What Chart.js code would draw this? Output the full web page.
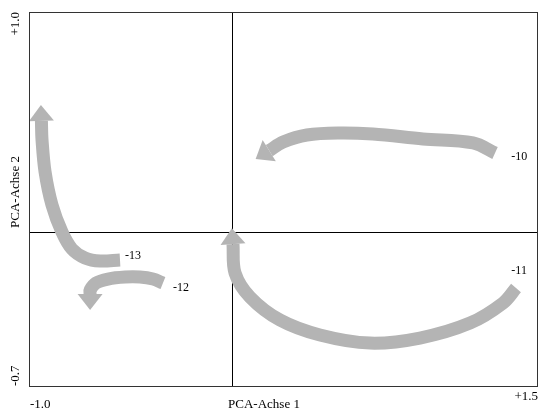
<!DOCTYPE html>
<html>
<head>
<meta charset="utf-8">
<script src="https://cdn.jsdelivr.net/npm/chart.js@4"></script>
<style>
  html, body { margin: 0; padding: 0; background: #fff; }
  #wrap { width: 540px; height: 412px; }
</style>
</head>
<body>
<div id="wrap"><canvas id="pcaChart"></canvas></div>
<script>
// trajectories in PCA space (axis 1 = x, axis 2 = y)
const seriesNames = ['-10', '-11', '-12', '-13'];
const x10 = [1.289, 1.181, 0.935, 0.689, 0.527, 0.365, 0.248, 0.180];
const y10 = [0.359, 0.405, 0.423, 0.445, 0.450, 0.441, 0.409, 0.370];
const x11 = [1.392, 1.328, 1.166, 0.920, 0.675, 0.429, 0.233, 0.085, 0.012, 0.002];
const y11 = [-0.255, -0.323, -0.414, -0.482, -0.505, -0.468, -0.400, -0.295, -0.186, -0.055];
const x12 = [-0.342, -0.391, -0.455, -0.528, -0.612, -0.671, -0.700, -0.700];
const y12 = [-0.232, -0.214, -0.205, -0.205, -0.214, -0.232, -0.264, -0.282];
const x13 = [-0.553, -0.651, -0.725, -0.789, -0.838, -0.887, -0.921, -0.936, -0.939];
const y13 = [-0.127, -0.132, -0.118, -0.077, 0.000, 0.123, 0.273, 0.418, 0.505];
const labelX = [1.369, 1.369, -0.293, -0.528];
const labelY = [0.341, -0.177, -0.255, -0.109];
const xTickLabels = ['-1.0', '+1.5'];
const yTickLabels = ['+1.0', '-0.7'];
const xTitle = 'PCA-Achse 1';
const yTitle = 'PCA-Achse 2';

const xs = [x10, x11, x12, x13];
const ys = [y10, y11, y12, y13];
const grey = '#b4b4b4';
const serif = '"Liberation Serif", "Times New Roman", serif';

const datasets = seriesNames.map((name, i) => ({
  label: name,
  data: xs[i].map((x, j) => ({ x: x, y: ys[i][j] })),
  showLine: true,
  borderColor: grey,
  borderWidth: 13,
  borderCapStyle: 'butt',
  borderJoinStyle: 'round',
  tension: 0.35,
  pointRadius: 0,
  fill: false
}));

// arrow heads at the end of each trajectory + frame, texts
const pcaPlugin = {
  id: 'pcaDecor',
  afterDatasetsDraw(chart) {
    const ctx = chart.ctx;
    chart.data.datasets.forEach((ds, i) => {
      const pts = chart.getDatasetMeta(i).data;
      const p = pts[pts.length - 1];
      let q = { x: p.cp1x, y: p.cp1y };
      if (q.x === undefined || Math.hypot(p.x - q.x, p.y - q.y) < 0.5) q = pts[pts.length - 2];
      const a = Math.atan2(p.y - q.y, p.x - q.x);
      const len = 16, half = 12.5;
      ctx.save();
      ctx.fillStyle = grey;
      ctx.beginPath();
      ctx.moveTo(p.x + Math.cos(a) * len, p.y + Math.sin(a) * len);
      ctx.lineTo(p.x - Math.sin(a) * half, p.y + Math.cos(a) * half);
      ctx.lineTo(p.x + Math.sin(a) * half, p.y - Math.cos(a) * half);
      ctx.closePath();
      ctx.fill();
      ctx.restore();
    });
  },
  afterDraw(chart) {
    const ctx = chart.ctx;
    const area = chart.chartArea;
    const sx = chart.scales.x, sy = chart.scales.y;
    ctx.save();
    ctx.strokeStyle = '#333';
    ctx.lineWidth = 1;
    ctx.strokeRect(area.left + 0.5, area.top + 0.5, area.right - area.left - 1, area.bottom - area.top);

    ctx.fillStyle = '#000';
    ctx.font = '12px ' + serif;
    ctx.textBaseline = 'middle';
    ctx.textAlign = 'left';
    seriesNames.forEach((name, i) => {
      ctx.fillText(name, sx.getPixelForValue(labelX[i]), sy.getPixelForValue(labelY[i]));
    });

    ctx.font = '13px ' + serif;
    ctx.textAlign = 'left';
    ctx.fillText(xTickLabels[0], area.left + 1, 405);
    ctx.textAlign = 'right';
    ctx.fillText(xTickLabels[1], area.right, 397);
    ctx.textAlign = 'center';
    ctx.fillText(xTitle, 264, 405);

    ctx.save();
    ctx.translate(16, area.top);
    ctx.rotate(-Math.PI / 2);
    ctx.textAlign = 'right';
    ctx.fillText(yTickLabels[0], 0, 0);
    ctx.restore();

    ctx.save();
    ctx.translate(16, area.bottom);
    ctx.rotate(-Math.PI / 2);
    ctx.textAlign = 'left';
    ctx.fillText(yTickLabels[1], 0, 0);
    ctx.restore();

    ctx.save();
    ctx.translate(16, 192);
    ctx.rotate(-Math.PI / 2);
    ctx.textAlign = 'center';
    ctx.fillText(yTitle, 0, 0);
    ctx.restore();
    ctx.restore();
  }
};

const zeroLine = (c) => Math.abs(c.tick.value) < 1e-9 ? '#000' : 'rgba(0,0,0,0)';

new Chart(document.getElementById('pcaChart').getContext('2d'), {
  type: 'scatter',
  data: { datasets: datasets },
  options: {
    responsive: true,
    maintainAspectRatio: false,
    animation: false,
    layout: { padding: { left: 29, right: 2, top: 12, bottom: 26 } },
    plugins: { legend: { display: false }, tooltip: { enabled: false } },
    scales: {
      x: {
        type: 'linear', min: -1.0, max: 1.5,
        ticks: { display: false, stepSize: 0.5 },
        grid: { color: zeroLine, drawTicks: false, lineWidth: 1 },
        border: { display: false }
      },
      y: {
        type: 'linear', min: -0.7, max: 1.0,
        ticks: { display: false, stepSize: 0.1 },
        grid: { color: zeroLine, drawTicks: false, lineWidth: 1 },
        border: { display: false }
      }
    }
  },
  plugins: [pcaPlugin]
});
</script>
</body>
</html>
